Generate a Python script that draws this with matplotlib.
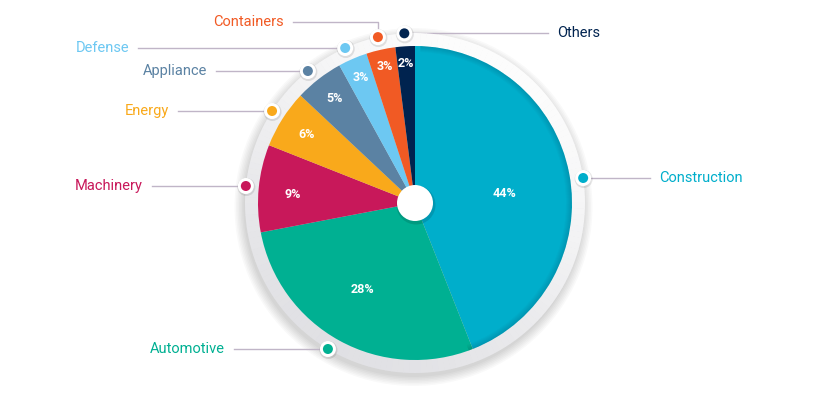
import numpy as np
import matplotlib.pyplot as plt
from matplotlib.patches import Circle, Wedge

# data
categories = ["Construction", "Automotive", "Machinery", "Energy",
              "Appliance", "Defense", "Containers", "Others"]
shares = [44, 28, 9, 6, 5, 3, 3, 2]
colors = ["#00AECB", "#00B092", "#C8185A", "#F9A91B",
          "#5B82A3", "#6DC8F2", "#F15A24", "#00234F"]

# layout (pixel coordinates, y measured from the top of the image)
W, H = 830, 395
CX, CY = 415, 203
R_PIE = 157
R_RING = 170
R_DOT = 170
# percent label radius (fraction of pie radius) and angle shift (deg)
label_frac = [0.575, 0.645, 0.78, 0.815, 0.84, 0.87, 0.89, 0.89]
label_shift = [-5, -2.5, 1.5, 0, 0, 0, 0, 0]
# (line end x, label row y, text side, connector mode)
#   "row": dot sits on the ring at the label row
#   "mid": dot at the slice middle, line at the dot height
#   "elbow": dot at the slice middle, line goes up then sideways
label_pos = [(650, 178, "right", "row"), (234, 349, "left", "row"),
             (152, 186, "left", "row"), (178, 111, "left", "row"),
             (216, 71, "left", "row"), (138, 48, "left", "row"),
             (293, 22, "left", "elbow"), (548, 34, "right", "mid")]

LINE_COLOR = "#c0b5c7"

plt.rcParams["font.family"] = ["Roboto", "DejaVu Sans"]

fig = plt.figure(figsize=(W / 100, H / 100), dpi=100)
ax = fig.add_axes([0, 0, 1, 1])


def fy(y):
    return H - y


wedges, _ = ax.pie(shares, colors=colors, startangle=90, counterclock=False,
                   center=(CX, fy(CY)), radius=R_PIE,
                   wedgeprops=dict(linewidth=0))
for w in wedges:
    w.set_zorder(3)

ax.set_xlim(0, W)
ax.set_ylim(0, H)
ax.set_aspect("equal")
ax.axis("off")

# soft shadow around the ring, heavier towards the bottom
for i in range(7):
    ax.add_patch(Circle((CX - 1.5, fy(CY) - 4), R_RING + 9 - i * 1.5,
                        color="black", alpha=0.022, lw=0, zorder=1))

# ring with a light-to-grey gradient (white top right, grey bottom left)
c_light = np.array([0.99, 0.99, 0.99])
c_dark = np.array([0.88, 0.88, 0.895])
for a in range(0, 360, 2):
    t = (1 + np.cos(np.deg2rad(a + 1 - 60))) / 2
    col = c_dark + (c_light - c_dark) * t
    ax.add_patch(Wedge((CX, fy(CY)), R_RING, a, a + 2.2,
                       width=R_RING - R_PIE + 2, color=col, lw=0, zorder=2))

# inner shading along the edge of the pie (top right)
for k in range(6):
    ax.add_patch(Wedge((CX, fy(CY)), R_PIE, -70, 88, width=k + 1,
                       color="black", alpha=0.02, lw=0, zorder=3.5))

# center hole
ax.add_patch(Circle((CX + 1, fy(CY) - 2), 19.5, color="black", alpha=0.12, lw=0, zorder=4))
ax.add_patch(Circle((CX, fy(CY)), 18, color="white", lw=0, zorder=5))

for i, w in enumerate(wedges):
    mid_deg = (w.theta1 + w.theta2) / 2
    mid = np.deg2rad(mid_deg + label_shift[i])
    lx = CX + R_PIE * label_frac[i] * np.cos(mid)
    ly = fy(CY) + R_PIE * label_frac[i] * np.sin(mid)
    ax.text(lx, ly, f"{shares[i]}%", color="white", fontsize=9,
            fontweight="bold", ha="center", va="center", zorder=6)

    end_x, row_y, side, mode = label_pos[i]
    row = fy(row_y)
    if mode == "row":
        dy = row
        sgn = 1 if np.cos(np.deg2rad(mid_deg)) >= 0 else -1
        dx = CX + sgn * np.sqrt(R_DOT ** 2 - (dy - fy(CY)) ** 2)
        ax.plot([dx, end_x], [dy, dy], color=LINE_COLOR, lw=1, zorder=1.5)
    else:
        ang = np.deg2rad(mid_deg)
        dx = CX + R_DOT * np.cos(ang)
        dy = fy(CY) + R_DOT * np.sin(ang)
        if mode == "elbow":
            ax.plot([dx, dx, end_x], [dy, row, row], color=LINE_COLOR, lw=1, zorder=1.5)
        else:
            row = dy
            ax.plot([dx, end_x], [dy, dy], color=LINE_COLOR, lw=1, zorder=1.5)
    ax.add_patch(Circle((dx + 0.5, dy - 1), 9, color="black", alpha=0.1, lw=0, zorder=6))
    ax.add_patch(Circle((dx, dy), 8, color="white", lw=0, zorder=7))
    ax.add_patch(Circle((dx, dy), 5, color=colors[i], lw=0, zorder=8))

    if side == "right":
        ax.text(end_x + 9, row, categories[i], color=colors[i], fontsize=10.5,
                ha="left", va="center")
    else:
        ax.text(end_x - 9, row, categories[i], color=colors[i], fontsize=10.5,
                ha="right", va="center")

fig.savefig("out.png", dpi=100)
